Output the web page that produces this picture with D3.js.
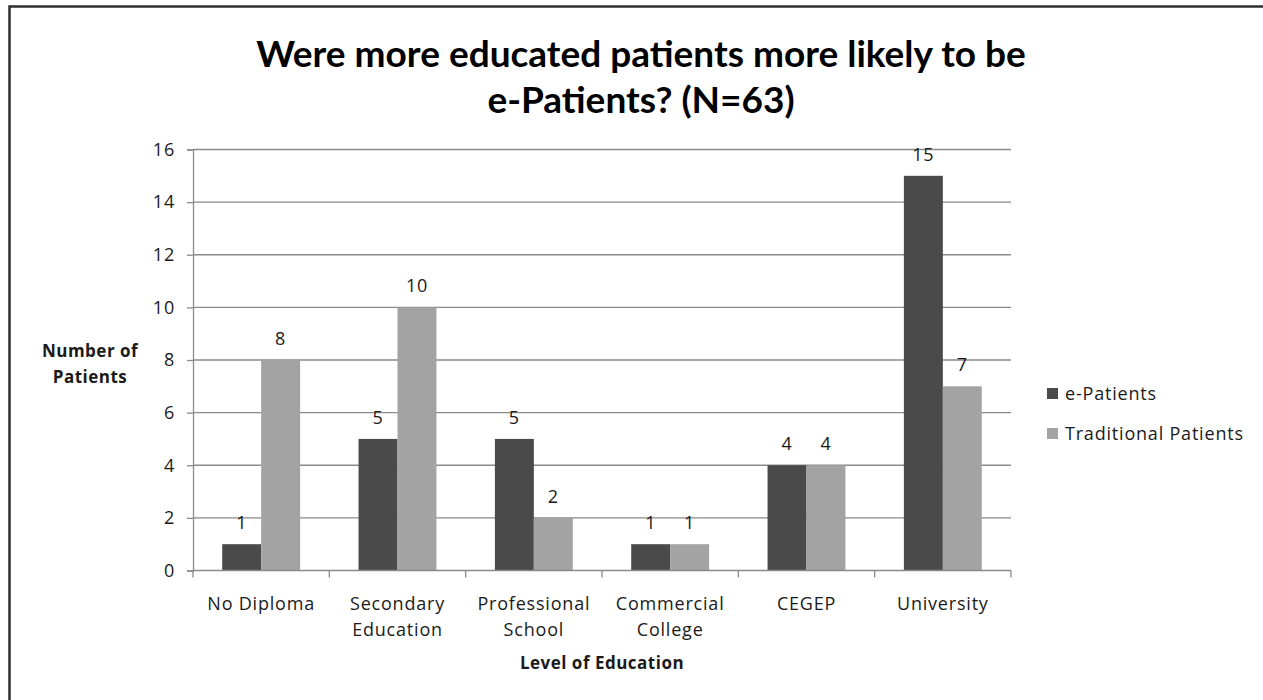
<!DOCTYPE html>
<html>
<head>
<meta charset="utf-8">
<script src="https://cdn.jsdelivr.net/npm/d3@7"></script>
<style>
  html, body { margin: 0; padding: 0; background: #fff; }
  svg { display: block; }
  text { font-family: "Open Sans", "Noto Sans", sans-serif; fill: #1a1a1a; }
  .body-text { font-size: 18px; letter-spacing: 0.8px; }
  .axis-title { font-size: 17px; font-weight: bold; letter-spacing: 0.5px; }
  .title { font-family: Lato, "Open Sans", sans-serif; font-size: 37px; font-weight: bold; fill: #000; }
</style>
</head>
<body>
<svg id="chart" width="1263" height="700"></svg>
<script>
// Education level of respondents, split by patient type
const categories = [
  ["No Diploma"],
  ["Secondary", "Education"],
  ["Professional", "School"],
  ["Commercial", "College"],
  ["CEGEP"],
  ["University"]
];
const seriesNames = ["e-Patients", "Traditional Patients"];
const ePatients = [1, 5, 5, 1, 4, 15];
const traditionalPatients = [8, 10, 2, 1, 4, 7];
const yTicks = [0, 2, 4, 6, 8, 10, 12, 14, 16];
const seriesColors = ["#4a4a4a", "#a3a3a3"];
const titleLines = ["Were more educated patients more likely to be", "e-Patients? (N=63)"];

const svg = d3.select("#chart");
const plot = { left: 193, right: 1011, top: 149.5, bottom: 570.5 };

// outer frame of the chart area
svg.append("rect")
  .attr("x", 9.5).attr("y", 6.5)
  .attr("width", 1300).attr("height", 800)
  .attr("fill", "none").attr("stroke", "#2e2e2e").attr("stroke-width", 2.5);

const keys = categories.map(c => c.join(" "));
const x0 = d3.scaleBand().domain(keys).range([plot.left, plot.right]).padding(0);
// gap between bar pairs is 150% of one bar
const pairW = x0.bandwidth() * 2 / 3.5;
const x1 = d3.scaleBand().domain(seriesNames)
  .range([(x0.bandwidth() - pairW) / 2, (x0.bandwidth() + pairW) / 2]);
const y = d3.scaleLinear().domain([0, 16]).range([plot.bottom, plot.top]);

// gridlines
svg.append("g").selectAll("line").data(yTicks.filter(t => t > 0)).join("line")
  .attr("x1", plot.left).attr("x2", plot.right)
  .attr("y1", d => y(d)).attr("y2", d => y(d))
  .attr("stroke", "#8a8a8a").attr("stroke-width", 1.3);

// y axis
const yAxis = svg.append("g")
  .attr("transform", `translate(${plot.left},0)`)
  .call(d3.axisLeft(y).tickValues(yTicks).tickSize(6).tickPadding(12).tickFormat(d3.format("d")));
yAxis.attr("font-family", null).attr("font-size", null);
yAxis.selectAll("line, path").attr("stroke", "#8a8a8a").attr("stroke-width", 1.3);
yAxis.selectAll("text").attr("class", "body-text").attr("fill", "#1a1a1a");

// bars
const data = keys.map((k, i) => ({ key: k, values: [ePatients[i], traditionalPatients[i]] }));
const groups = svg.append("g").selectAll("g").data(data).join("g")
  .attr("transform", d => `translate(${x0(d.key)},0)`);
groups.selectAll("rect").data(d => d.values.map((v, j) => ({ name: seriesNames[j], v, j })))
  .join("rect")
  .attr("x", d => x1(d.name))
  .attr("width", x1.bandwidth())
  .attr("y", d => y(d.v))
  .attr("height", d => y(0) - y(d.v))
  .attr("fill", d => seriesColors[d.j]);
groups.selectAll("text.val").data(d => d.values.map((v, j) => ({ name: seriesNames[j], v })))
  .join("text").attr("class", "val body-text")
  .attr("x", d => x1(d.name) + x1.bandwidth() / 2)
  .attr("y", d => y(d.v) - 15)
  .attr("text-anchor", "middle")
  .text(d => d.v);

// x axis with boundary ticks between categories
const xAxisG = svg.append("g");
xAxisG.append("line")
  .attr("x1", plot.left).attr("x2", plot.right)
  .attr("y1", plot.bottom).attr("y2", plot.bottom)
  .attr("stroke", "#8a8a8a").attr("stroke-width", 1.3);
const bounds = keys.map(k => x0(k)).concat([plot.right]);
xAxisG.selectAll("line.tick").data(bounds).join("line").attr("class", "tick")
  .attr("x1", d => d).attr("x2", d => d)
  .attr("y1", plot.bottom).attr("y2", plot.bottom + 7)
  .attr("stroke", "#8a8a8a").attr("stroke-width", 1.3);
xAxisG.selectAll("text.cat").data(categories).join("text").attr("class", "cat body-text")
  .attr("text-anchor", "middle")
  .attr("transform", (d, i) => `translate(${x0(keys[i]) + x0.bandwidth() / 2},${plot.bottom + 39})`)
  .each(function (d) {
    d3.select(this).selectAll("tspan").data(d).join("tspan")
      .attr("x", 0).attr("dy", (t, i) => i === 0 ? 0 : 26).text(t => t);
  });

// axis titles
svg.append("text").attr("class", "axis-title")
  .attr("x", (plot.left + plot.right) / 2).attr("y", 669)
  .attr("text-anchor", "middle")
  .text("Level of Education");
svg.append("text").attr("class", "axis-title")
  .attr("text-anchor", "middle")
  .attr("transform", "translate(90,357)")
  .selectAll("tspan").data(["Number of", "Patients"]).join("tspan")
  .attr("x", 0).attr("dy", (t, i) => i === 0 ? 0 : 26).text(t => t);

// title
svg.append("text").attr("class", "title")
  .attr("text-anchor", "middle")
  .attr("transform", "translate(641,67)")
  .selectAll("tspan").data(titleLines).join("tspan")
  .attr("x", 0).attr("dy", (t, i) => i === 0 ? 0 : 46).text(t => t);

// legend
const legend = svg.append("g").selectAll("g").data(seriesNames).join("g")
  .attr("transform", (d, i) => `translate(1047,${394 + i * 40})`);
legend.append("rect")
  .attr("x", 0).attr("y", -6).attr("width", 11).attr("height", 11)
  .attr("fill", (d, i) => seriesColors[i]);
legend.append("text").attr("class", "body-text")
  .attr("x", 18).attr("y", 0).attr("dy", "0.35em")
  .text(d => d);
</script>
</body>
</html>
